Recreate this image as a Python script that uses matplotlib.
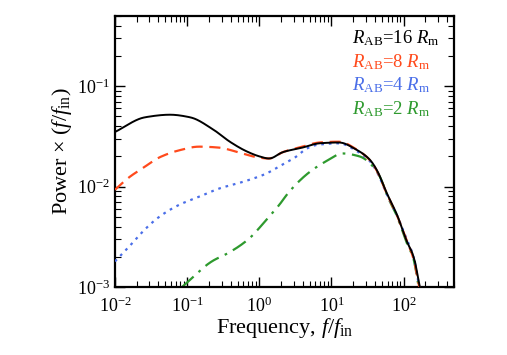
import numpy as np
import matplotlib
matplotlib.use("Agg")
import matplotlib.pyplot as plt
from matplotlib.ticker import LogLocator, NullFormatter

plt.rcParams['font.family'] = ['Liberation Serif', 'DejaVu Serif']
plt.rcParams['mathtext.fontset'] = 'custom'
plt.rcParams['mathtext.rm'] = 'Liberation Serif'
plt.rcParams['mathtext.it'] = 'Liberation Serif:italic'

# values (frequency in f/f_in, power x f/f_in)
f16 = [0.01, 0.026, 0.058, 0.11, 0.23, 0.39, 0.67, 1.0, 1.38, 2.1, 4.0, 6.8, 12.9, 22, 34,
       44, 58, 79, 120, 133, 168]
p16 = [0.035, 0.049, 0.052, 0.049, 0.037, 0.028, 0.0224, 0.020, 0.019, 0.022, 0.0245,
       0.027, 0.0275, 0.0234, 0.0186, 0.014, 0.0087, 0.0055, 0.0025, 0.0022, 0.001]

f8 = [0.01, 0.0155, 0.025, 0.041, 0.078, 0.145, 0.27, 0.52, 0.9, 1.38, 2.1, 4.0, 6.8,
      12.9, 22, 34, 44, 58, 79, 120, 133, 165]
p8 = [0.0093, 0.0123, 0.0155, 0.0195, 0.023, 0.025, 0.0245, 0.0219, 0.0197, 0.019, 0.022,
      0.025, 0.0275, 0.028, 0.0236, 0.0184, 0.0138, 0.0086, 0.0054, 0.0025, 0.0021, 0.001]

f4 = [0.01, 0.0155, 0.0236, 0.041, 0.078, 0.145, 0.27, 0.63, 1.2, 2.1, 3.3, 4.3, 6.2,
      12.9, 22, 34, 44, 58, 79, 120, 133, 165]
p4 = [0.0018, 0.0025, 0.0035, 0.0050, 0.0066, 0.0079, 0.0095, 0.0113, 0.0133, 0.0166,
      0.020, 0.0234, 0.026, 0.027, 0.0228, 0.018, 0.0135, 0.0085, 0.0054, 0.0026, 0.0022,
      0.001]

f2 = [0.085, 0.22, 0.38, 0.71, 1.17, 1.9, 2.6, 5.0, 9.3, 14, 24.5, 41, 51, 58, 79, 120,
      133, 162]
p2 = [0.001, 0.0018, 0.0022, 0.0030, 0.0044, 0.0066, 0.0089, 0.014, 0.0186, 0.0214,
      0.020, 0.0148, 0.011, 0.0084, 0.0053, 0.0024, 0.0021, 0.001]

labels = [r'$R_{\rm AB}$=16 $R_{\rm m}$', r'$R_{\rm AB}$=8 $R_{\rm m}$',
          r'$R_{\rm AB}$=4 $R_{\rm m}$', r'$R_{\rm AB}$=2 $R_{\rm m}$']
colors = ['black', '#ff4a1c', '#4a6ee8', '#2e9a2e']


def pchip(xk, yk, xs):
    # monotone cubic hermite (Fritsch-Carlson)
    h = np.diff(xk)
    d = np.diff(yk) / h
    m = np.zeros_like(yk)
    for i in range(1, len(xk) - 1):
        if d[i - 1] * d[i] > 0:
            w1 = 2 * h[i] + h[i - 1]
            w2 = h[i] + 2 * h[i - 1]
            m[i] = (w1 + w2) / (w1 / d[i - 1] + w2 / d[i])
    m[0] = d[0]
    m[-1] = d[-1]
    idx = np.clip(np.searchsorted(xk, xs) - 1, 0, len(xk) - 2)
    t = (xs - xk[idx]) / h[idx]
    h00 = 2 * t**3 - 3 * t**2 + 1
    h10 = t**3 - 2 * t**2 + t
    h01 = -2 * t**3 + 3 * t**2
    h11 = t**3 - t**2
    return (h00 * yk[idx] + h10 * h[idx] * m[idx] + h01 * yk[idx + 1]
            + h11 * h[idx] * m[idx + 1])


def smooth(fx, py, n=500):
    lx = np.log10(fx)
    ly = np.log10(py)
    xs = np.linspace(lx[0], lx[-1], n)
    ys = pchip(lx, ly, xs)
    # light running mean to take the corners off
    k = 9
    pad = np.concatenate([np.full(k // 2, ys[0]), ys, np.full(k // 2, ys[-1])])
    ys2 = np.convolve(pad, np.ones(k) / k, mode='valid')
    ys2[:k] = ys[:k]
    ys2[-k:] = ys[-k:]
    return 10 ** xs, 10 ** ys2


fig = plt.figure(figsize=(5.07, 3.55), dpi=100)
ax = fig.add_axes([115 / 507, 1 - 287 / 355, (454 - 115) / 507, (287 - 16) / 355])

x, y = smooth(f16, p16)
ax.plot(x, y, color=colors[0], lw=1.4, ls='-', label=labels[0], zorder=5)
x, y = smooth(f8, p8)
ax.plot(x, y, color=colors[1], lw=1.6, ls=(0, (5, 3)), label=labels[1], zorder=4)
x, y = smooth(f4, p4)
ax.plot(x, y, color=colors[2], lw=1.6, ls=(0, (1.2, 2.2)), label=labels[2], zorder=3)
x, y = smooth(f2, p2)
ax.plot(x, y, color=colors[3], lw=1.6, ls=(0, (7, 3, 1.2, 3)), label=labels[3], zorder=2)

ax.set_xscale('log')
ax.set_yscale('log')
ax.set_xlim(0.01, 500)
ax.set_ylim(1e-3, 0.5)

ax.xaxis.set_major_locator(LogLocator(base=10, numticks=10))
ax.xaxis.set_minor_locator(LogLocator(base=10, subs=np.arange(2, 10), numticks=20))
ax.yaxis.set_major_locator(LogLocator(base=10, numticks=10))
ax.yaxis.set_minor_locator(LogLocator(base=10, subs=np.arange(2, 10), numticks=20))
ax.xaxis.set_minor_formatter(NullFormatter())
ax.yaxis.set_minor_formatter(NullFormatter())

ax.tick_params(which='both', direction='in', top=True, right=True, labelsize=13)
ax.tick_params(axis='x', which='major', pad=7)
ax.tick_params(which='major', length=7, width=1)
ax.tick_params(which='minor', length=4, width=0.8)
for s in ax.spines.values():
    s.set_linewidth(1.6)

ax.set_xlabel(r'Frequency, $f/f_{\rm in}$', fontsize=16, labelpad=0)
ax.set_ylabel(r'Power $\times$ $(f/f_{\rm in})$', fontsize=16, labelpad=2)

leg = ax.legend(loc='upper right', handlelength=0, handletextpad=0, frameon=False,
                fontsize=13.5, labelcolor='linecolor', borderaxespad=0.2,
                labelspacing=0.22, bbox_to_anchor=(0.99, 0.997))
for h in leg.legend_handles:
    h.set_visible(False)

fig.savefig('out.png', dpi=100)
